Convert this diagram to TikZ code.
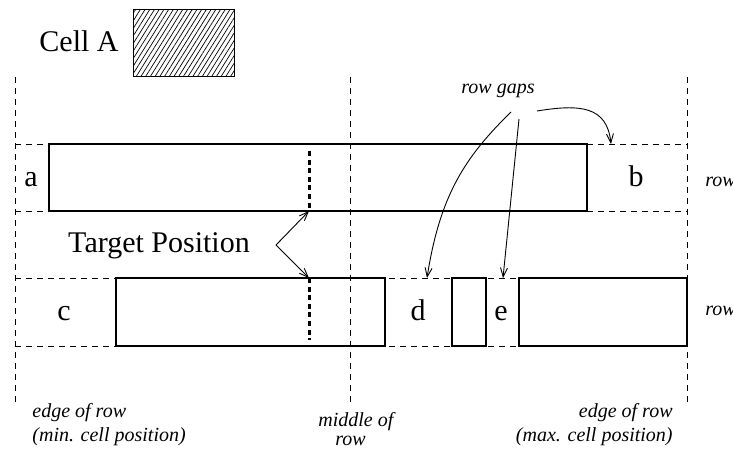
\documentclass[tikz,border=0pt]{standalone}
\usepackage{fontspec}
\setmainfont{Liberation Serif}
\usetikzlibrary{arrows.meta,patterns.meta}

\begin{document}
\begin{tikzpicture}[x=0.5pt,y=-0.5pt,
    cellbox/.style={draw,line width=0.6pt},
    guide/.style={line width=0.4pt,dash pattern=on 3pt off 2.5pt},
    target/.style={line width=1.5pt,dash pattern=on 2.5pt off 1.8pt},
    pointer/.style={line width=0.45pt,-{Straight Barb[length=4.5pt,width=3.5pt]}},
    big/.style={font=\fontsize{15}{18}\selectfont,inner sep=0pt},
    note/.style={font=\fontsize{10}{12}\selectfont\itshape,inner sep=0pt}]
  \useasboundingbox (0,0) rectangle (733,453);
  \node[big,anchor=base] (cellA) at (79,52) {Cell A};
  \draw[line width=0.5pt,pattern={Lines[angle=58,distance=2pt,line width=0.35pt]}] (133,10) rectangle (234,77);
  \draw[guide] (15,77) -- (15,405);
  \draw[guide] (350,77) -- (350,405);
  \draw[guide] (687,77) -- (687,405);
  \draw[guide] (15,144) -- (687,144);
  \draw[guide] (15,211) -- (687,211);
  \draw[guide] (15,278) -- (687,278);
  \draw[guide] (15,346) -- (687,346);
  \draw[cellbox] (49,144) rectangle (587,211);
  \draw[cellbox] (116,278) rectangle (385,346);
  \draw[cellbox] (452,278) rectangle (486,346);
  \draw[cellbox] (519,278) rectangle (687,346);
  \coordinate (tgtA) at (309,211);
  \coordinate (tgtC) at (309,278);
  \draw[target] (309,151) -- (tgtA);
  \draw[target] (tgtC) -- (309,340);
  \node[big,anchor=base] (la) at (31,187) {a};
  \node[big,anchor=base] (lb) at (636,187) {b};
  \node[big,anchor=base] (lc) at (64,321) {c};
  \node[big,anchor=base] (ld) at (418,321) {d};
  \node[big,anchor=base] (le) at (501,321) {e};
  \node[note,anchor=base west] (rowA) at (705,187) {row};
  \node[note,anchor=base west] (rowC) at (705,316) {row};
  \node[big,anchor=base] (tpos) at (159,253) {Target Position};
  \coordinate (tpfork) at (276,245);
  \draw[pointer] (tpfork) -- (tgtA);
  \draw[pointer] (tpfork) -- (tgtC);
  \node[note,anchor=base] (gaps) at (498,94) {row gaps};
  \coordinate (gapD) at (427,278);
  \coordinate (gapE) at (503,278);
  \coordinate (gapB) at (611,144);
  \draw[pointer] (511,112) .. controls (465,157) and (440,195) .. (gapD);
  \draw[pointer] (519,119) -- (gapE);
  \draw[pointer] (537,111) .. controls (580,104) and (607,106) .. (gapB);
  \node[note,anchor=base west] (minA) at (32,418) {edge of row};
  \node[note,anchor=base west] (minB) at (32,442) {(min. cell position)};
  \node[note,anchor=base west] (midA) at (318,427) {middle of};
  \node[note,anchor=base west] (midB) at (335,446) {row};
  \node[note,anchor=base east] (maxA) at (673,418) {edge of row};
  \node[note,anchor=base east] (maxB) at (673,442) {(max. cell position)};
\end{tikzpicture}
\end{document}
